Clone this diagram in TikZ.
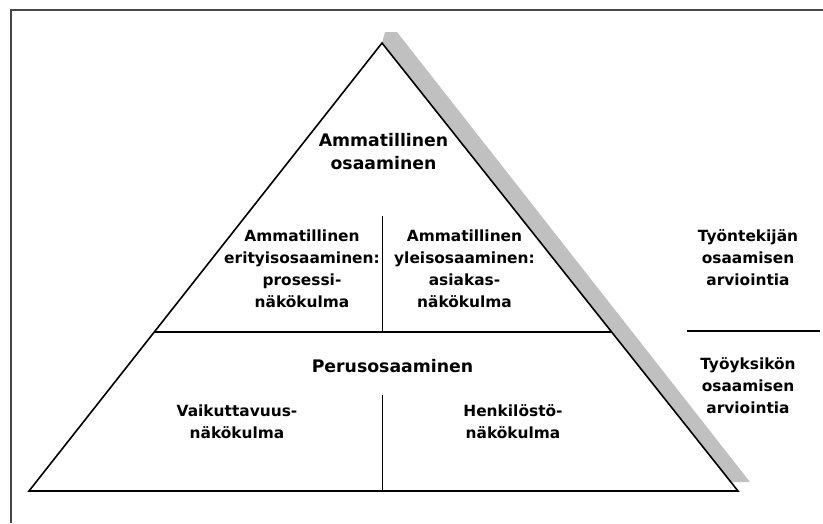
\documentclass[tikz,border=0pt]{standalone}
\usepackage{fontspec}
\setmainfont{DejaVu Sans}
\definecolor{shadowgray}{RGB}{192,192,192}
\definecolor{framegray}{RGB}{70,70,70}
\begin{document}
\begin{tikzpicture}[x=1pt,y=-1pt,
  lbl/.style={inner sep=0pt,align=center,font=\bfseries\fontsize{15.4}{22}\selectfont},
  ttl/.style={inner sep=0pt,align=center,font=\bfseries\fontsize{17.3}{23}\selectfont},
  edge/.style={draw=black,line width=1.6pt},
  thin/.style={draw=black,line width=1.2pt}]
\useasboundingbox (0,0) rectangle (823,523);
% frame
\draw[framegray,line width=2pt] (11,523) -- (11,9.5) -- (823,9.5);
% shadow
\fill[shadowgray] (382,43) -- (385,32) -- (397,32) -- (750,482) -- (731,482) -- cycle;
% triangle
\coordinate (apex) at (382,43);
\coordinate (bl) at (29,491);
\coordinate (br) at (738,491);
\draw[edge,line join=miter] (apex) -- (br) -- (bl) -- cycle;
% dividers
\coordinate (ml) at (154,332);
\coordinate (mr) at (611.5,332);
\draw[thin] (ml) -- (mr);
\coordinate (v1t) at (382.5,216);
\coordinate (v1b) at (382.5,332);
\draw[thin] (v1t) -- (v1b);
\coordinate (v2t) at (382.5,395);
\coordinate (v2b) at (382.5,491);
\draw[thin] (v2t) -- (v2b);
\coordinate (rl) at (687,331);
\coordinate (rr) at (820,331);
\draw[thin] (rl) -- (rr);
% labels
\node[ttl] (title) at (383.5,151.5) {Ammatillinen\\osaaminen};
\node[lbl] (ul) at (302,269) {Ammatillinen\\erityisosaaminen:\\prosessi-\\näkökulma};
\node[lbl] (ur) at (464.5,269) {Ammatillinen\\yleisosaaminen:\\asiakas-\\näkökulma};
\node[ttl] (perus) at (392.5,366) {Perusosaaminen};
\node[lbl] (ll) at (237,421.5) {Vaikuttavuus-\\näkökulma};
\node[lbl] (lr) at (513,421.5) {Henkilöstö-\\näkökulma};
\node[lbl] (r1) at (748,258) {Työntekijän\\osaamisen\\arviointia};
\node[lbl] (r2) at (748,386) {Työyksikön\\osaamisen\\arviointia};
\end{tikzpicture}
\end{document}
